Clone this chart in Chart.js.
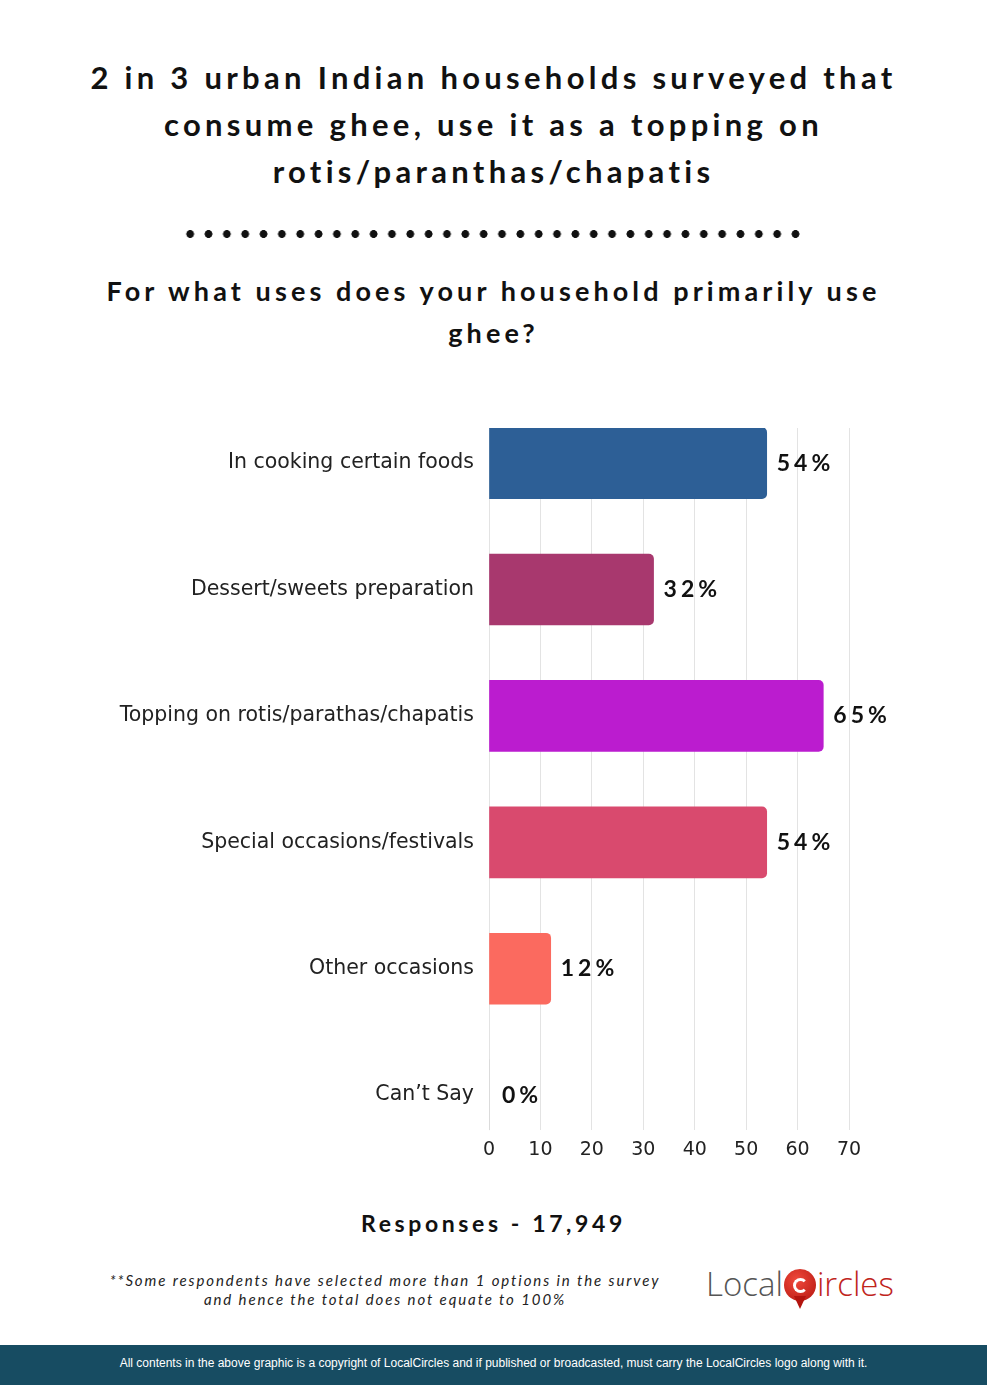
<!DOCTYPE html>
<html>
<head>
<meta charset="utf-8">
<script src="https://cdn.jsdelivr.net/npm/chart.js@4.4.0/dist/chart.umd.min.js"></script>
<style>
  body { margin: 0; background: #fff; }
  #page { position: relative; width: 987px; height: 1385px; overflow: hidden; background: #fff; font-family: "Lato", sans-serif; color: #111; }
  .title { position: absolute; left: 0; width: 987px; text-align: center; font-weight: 700; font-size: 31px; letter-spacing: 4.3px; line-height: 47px; top: 54px; }
  .dots { position: absolute; left: 181px; top: 229px; width: 624px; height: 10px;
    background-image: radial-gradient(circle, #111 3.6px, transparent 4.2px);
    background-size: 18.35px 10px; }
  .sub { position: absolute; left: 0; width: 987px; text-align: center; font-weight: 700; font-size: 27px; letter-spacing: 4.1px; line-height: 42px; top: 270px; }
  #wrap { position: absolute; left: 0; top: 400px; width: 987px; height: 790px; }
  .resp { position: absolute; left: 0; width: 987px; text-align: center; top: 1209px; font-weight: 700; font-size: 23px; letter-spacing: 3.6px; }
  .note { position: absolute; left: 85px; width: 600px; text-align: center; top: 1271px; font-style: italic; font-size: 15px; letter-spacing: 1.9px; line-height: 19px; color: #222; }
  .logo { position: absolute; left: 706px; top: 1261px; font-family: "Open Sans", sans-serif; font-weight: 300; font-size: 33px; letter-spacing: 0px; white-space: nowrap; }
  .logo .l { color: #555; }
  .logo .r { color: #c0241c; }
  .logo .c { display: inline-block; width: 32px; height: 32px; border-radius: 50%; background: radial-gradient(circle at 40% 35%, #f04a3c, #b3140e); vertical-align: -5px; margin: 0 1px; position: relative; }
  .logo .c:after { content: ""; position: absolute; left: 9px; top: 9px; width: 9px; height: 9px; border: 3px solid #fff; border-right-color: transparent; border-radius: 50%; }
  .logo .c:before { content: ""; position: absolute; left: 10px; top: 27px; border-left: 6px solid transparent; border-right: 6px solid transparent; border-top: 13px solid #b3140e; }
  .foot { position: absolute; left: 0; top: 1345px; width: 987px; height: 40px; background: #174c62; color: #fff; font-family: "Liberation Sans", Arial, sans-serif; font-size: 12px; text-align: center; line-height: 36px; }
</style>
</head>
<body>
<div id="page">
  <div class="title">2 in 3 urban Indian households surveyed that<br>consume ghee, use it as a topping on<br>rotis/paranthas/chapatis</div>
  <div class="dots"></div>
  <div class="sub">For what uses does your household primarily use<br>ghee?</div>
  <div id="wrap"><canvas id="myChart"></canvas></div>
  <div class="resp">Responses - 17,949</div>
  <div class="note">**Some respondents have selected more than 1 options in the survey<br>and hence the total does not equate to 100%</div>
  <div class="logo"><span class="l">Local</span><span class="c"></span><span class="r">ircles</span></div>
  <div class="foot">All contents in the above graphic is a copyright of LocalCircles and if published or broadcasted, must carry the LocalCircles logo along with it.</div>
</div>
<script>
var categories = ['In cooking certain foods', 'Dessert/sweets preparation', 'Topping on rotis/parathas/chapatis', 'Special occasions/festivals', 'Other occasions', 'Can\u2019t Say'];
var shares = [54, 32, 65, 54, 12, 0];
var barColors = ['#2d5f96', '#a8386e', '#bb1ccf', '#d94a6e', '#fb6a5f', '#cccccc'];
var xTicks = [0, 10, 20, 30, 40, 50, 60, 70];

// percent labels at the end of each bar
var valueLabels = {
  id: 'valueLabels',
  afterDatasetsDraw: function (chart) {
    var ctx = chart.ctx;
    var meta = chart.getDatasetMeta(0);
    ctx.save();
    ctx.font = '700 23px "Lato", sans-serif';
    ctx.letterSpacing = '4px';
    ctx.fillStyle = '#111';
    ctx.textBaseline = 'middle';
    ctx.textAlign = 'left';
    meta.data.forEach(function (bar, i) {
      ctx.fillText(shares[i] + '%', bar.x + (shares[i] === 0 ? 13 : 10), bar.y);
    });
    ctx.restore();
  }
};

const lineChartBox = document.getElementById('myChart');
new Chart(lineChartBox.getContext('2d'), {
  type: 'bar',
  data: {
    labels: categories,
    datasets: [{
      data: shares,
      backgroundColor: barColors,
      borderRadius: { topRight: 5, bottomRight: 5 },
      borderSkipped: 'start',
      barThickness: 71
    }]
  },
  options: {
    indexAxis: 'y',
    responsive: true,
    maintainAspectRatio: false,
    animation: false,
    layout: { padding: { top: 28, right: 138, bottom: 21, left: 0 } },
    plugins: { legend: { display: false }, tooltip: { enabled: false } },
    scales: {
      x: {
        min: 0,
        max: 70,
        afterBuildTicks: function (s) { s.ticks = xTicks.map(function (v) { return { value: v }; }); },
        grid: { color: '#e3e3e3', drawTicks: false, lineWidth: 1 },
        border: { display: false },
        ticks: { padding: 8, color: '#222', font: { family: 'DejaVu Sans', size: 19 } }
      },
      y: {
        offset: false,
        // spread categories a little past the plot edges like the original
        afterBuildTicks: function (s) { s._startValue = -0.2776; s._valueRange = 5.555; },
        afterFit: function (s) { s.width = 489; },
        grid: { display: false },
        border: { display: false },
        ticks: { padding: 7, color: '#222', font: { family: 'DejaVu Sans', size: 20.5 } }
      }
    }
  },
  plugins: [valueLabels]
});
</script>
</body>
</html>
